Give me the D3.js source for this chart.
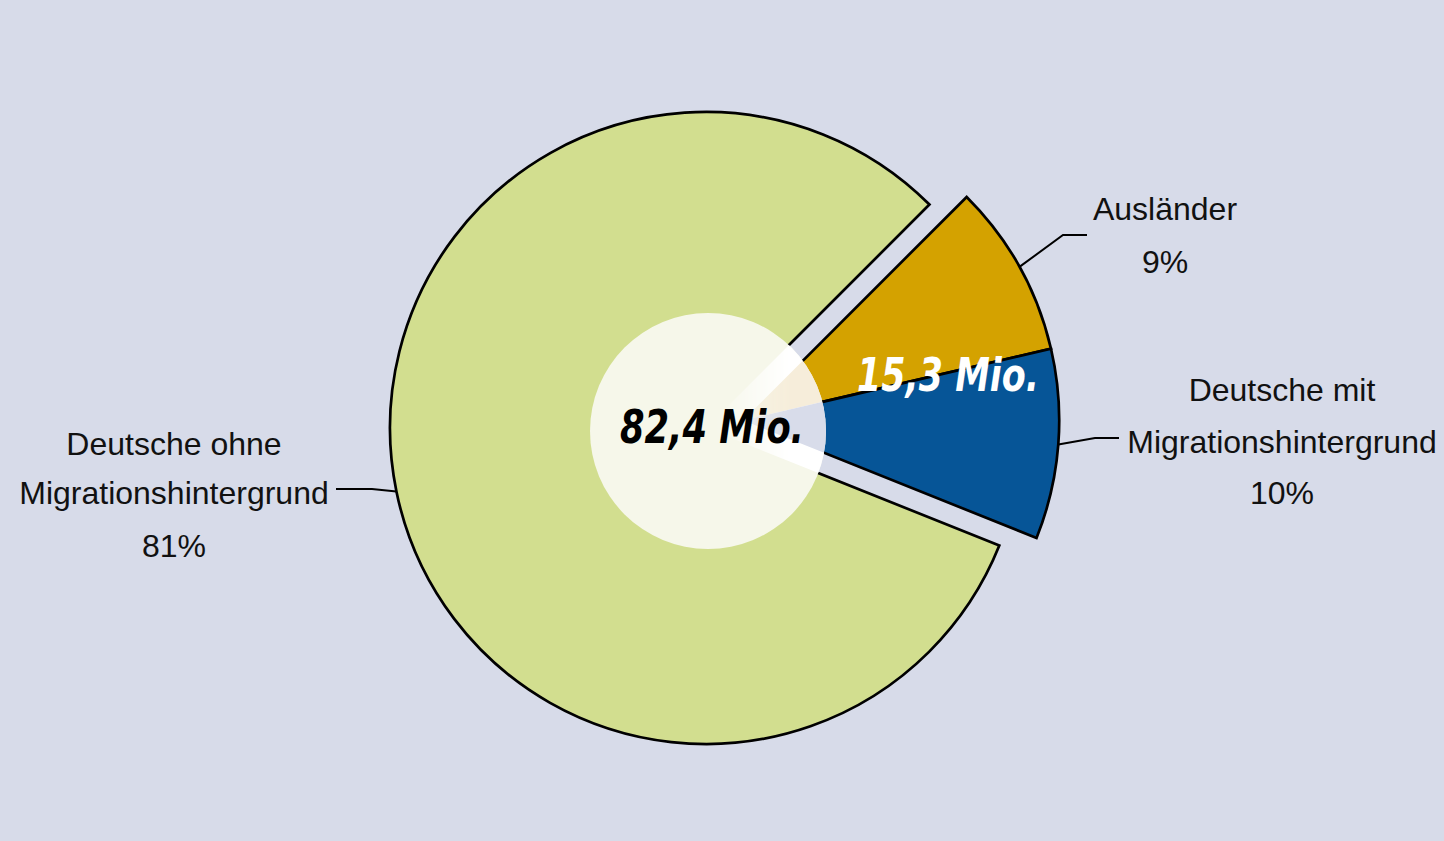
<!DOCTYPE html>
<html>
<head>
<meta charset="utf-8">
<script src="https://cdn.jsdelivr.net/npm/d3@7"></script>
<style>
    html, body { margin: 0; padding: 0; background: #d7dbe9; }
    svg { display: block; }
</style>
</head>
<body>
<svg id="pie" width="1444" height="841"></svg>
<script>
(() => {

    // data (Mio. Einwohner)
    const categories = ['Ausländer', 'Deutsche mit Migrationshintergrund', 'Deutsche ohne Migrationshintergrund'];
    const values = [7.3, 8.0, 67.1];
    const label_lines = [['Ausländer'], ['Deutsche mit', 'Migrationshintergrund'], ['Deutsche ohne', 'Migrationshintergrund']];
    const exploded = [true, true, false];

    // chart parameters
    const width = 1444;
    const height = 841;
    const cx = 706;
    const cy = 428;
    const radius = 316;
    const explode_dist = 38;
    const hole = { x: 708, y: 431, r: 118 };

    const fills = ['#d4a200', '#065597', '#d2de8f'];
    const ghost_fills = ['#f6edda', '#d8dcea', 'none'];

    // label layout: text centre, baselines, leader bend and end
    const label_pos = [
        { x: 1165, ys: [220, 273], bend: [1063, 235], end: [1087, 235] },
        { x: 1282, ys: [401, 453, 504], bend: [1095, 438], end: [1119, 438] },
        { x: 174, ys: [455, 504, 557], bend: [372, 489], end: [336, 489] }
    ];

    let svg = d3.select('#pie');

    svg.append('rect')
        .attr('width', width)
        .attr('height', height)
        .attr('fill', '#d7dbe9');

    let pie = d3.pie()
        .sort(null)
        .startAngle(Math.PI / 4)
        .endAngle(Math.PI / 4 + 2 * Math.PI);

    let arcs = pie(values);

    // the two migration slices move out together along their common bisector
    let group_start = arcs[0].startAngle;
    let group_end = arcs[1].endAngle;
    let group_mid = (group_start + group_end) / 2;
    let offset = [explode_dist * Math.sin(group_mid), -explode_dist * Math.cos(group_mid)];

    let shift = (i) => exploded[i] ? offset : [0, 0];

    let arc = d3.arc().innerRadius(0).outerRadius(radius);
    let rim = d3.arc().innerRadius(radius).outerRadius(radius);

    let slices = svg.append('g').attr('transform', `translate(${cx}, ${cy})`);

    slices.selectAll('path')
        .data(arcs)
        .enter()
        .append('path')
        .attr('transform', (d, i) => `translate(${shift(i)[0]}, ${shift(i)[1]})`)
        .attr('d', arc)
        .attr('fill', (d, i) => fills[i])
        .attr('stroke', '#000')
        .attr('stroke-width', 2.7)
        .attr('stroke-linejoin', 'miter');

    // leader lines
    svg.append('g')
        .selectAll('polyline')
        .data(arcs)
        .enter()
        .append('polyline')
        .attr('points', (d, i) => {
            let c = rim.centroid(d);
            let start = [cx + c[0] + shift(i)[0], cy + c[1] + shift(i)[1]];
            return [start, label_pos[i].bend, label_pos[i].end].map((p) => p.join(',')).join(' ');
        })
        .attr('fill', 'none')
        .attr('stroke', '#000')
        .attr('stroke-width', 2);

    // light centre disc
    svg.append('circle')
        .attr('cx', hole.x)
        .attr('cy', hole.y)
        .attr('r', hole.r)
        .attr('fill', '#f6f7ea');

    let defs = svg.append('defs');
    defs.append('clipPath')
        .attr('id', 'hole_clip')
        .append('circle')
        .attr('cx', hole.x)
        .attr('cy', hole.y)
        .attr('r', hole.r);

    let grad = defs.append('linearGradient')
        .attr('id', 'fade')
        .attr('gradientUnits', 'userSpaceOnUse')
        .attr('x1', cx + 8).attr('y1', 0)
        .attr('x2', cx + 85).attr('y2', 0);
    grad.append('stop').attr('offset', 0).attr('stop-color', '#000');
    grad.append('stop').attr('offset', 1).attr('stop-color', '#fff');

    defs.append('mask')
        .attr('id', 'fade_mask')
        .attr('maskUnits', 'userSpaceOnUse')
        .attr('x', 0).attr('y', 0).attr('width', width).attr('height', height)
        .append('rect')
        .attr('width', width)
        .attr('height', height)
        .attr('fill', 'url(#fade)');

    // faded continuation of the exploded slices inside the disc
    let ghost = svg.append('g')
        .attr('clip-path', 'url(#hole_clip)')
        .append('g')
        .attr('mask', 'url(#fade_mask)')
        .append('g')
        .attr('transform', `translate(${cx}, ${cy})`);

    ghost.append('path')
        .attr('d', d3.arc().innerRadius(0).outerRadius(radius)({ startAngle: group_start, endAngle: group_end }))
        .attr('fill', '#ffffff');

    ghost.selectAll('.ghost')
        .data(arcs.filter((d, i) => exploded[i]))
        .enter()
        .append('path')
        .attr('class', 'ghost')
        .attr('transform', `translate(${offset[0]}, ${offset[1]})`)
        .attr('d', arc)
        .attr('fill', (d, i) => ghost_fills[i]);

    // totals in the middle
    let fmt = (v) => v.toFixed(1).replace('.', ',') + ' Mio.';
    let total = d3.sum(values);
    let migration = d3.sum(values.filter((v, i) => exploded[i]));

    svg.append('text')
        .attr('x', 620)
        .attr('y', 443)
        .attr('textLength', 184)
        .attr('lengthAdjust', 'spacingAndGlyphs')
        .text(fmt(total))
        .style('font-family', '"DejaVu Sans Condensed", "DejaVu Sans", sans-serif')
        .style('font-weight', 'bold')
        .style('font-style', 'italic')
        .style('font-size', 47)
        .style('fill', '#000');

    svg.append('text')
        .attr('x', 857)
        .attr('y', 391)
        .attr('textLength', 182)
        .attr('lengthAdjust', 'spacingAndGlyphs')
        .text(fmt(migration))
        .style('font-family', '"DejaVu Sans Condensed", "DejaVu Sans", sans-serif')
        .style('font-weight', 'bold')
        .style('font-style', 'italic')
        .style('font-size', 47)
        .style('fill', '#fff');

    // category labels with shares
    let pct = d3.format('.0%');
    let labels = svg.append('g');

    arcs.forEach((d, i) => {
        let lines = label_lines[i].concat([pct(values[i] / total)]);
        let t = labels.append('text')
            .style('font-family', '"Liberation Sans", Arial, sans-serif')
            .style('font-size', 32)
            .style('fill', '#111')
            .style('text-anchor', 'middle');
        lines.forEach((line, j) => {
            t.append('tspan')
                .attr('x', label_pos[i].x)
                .attr('y', label_pos[i].ys[j])
                .text(line);
        });
    });

})();
</script>
</body>
</html>
